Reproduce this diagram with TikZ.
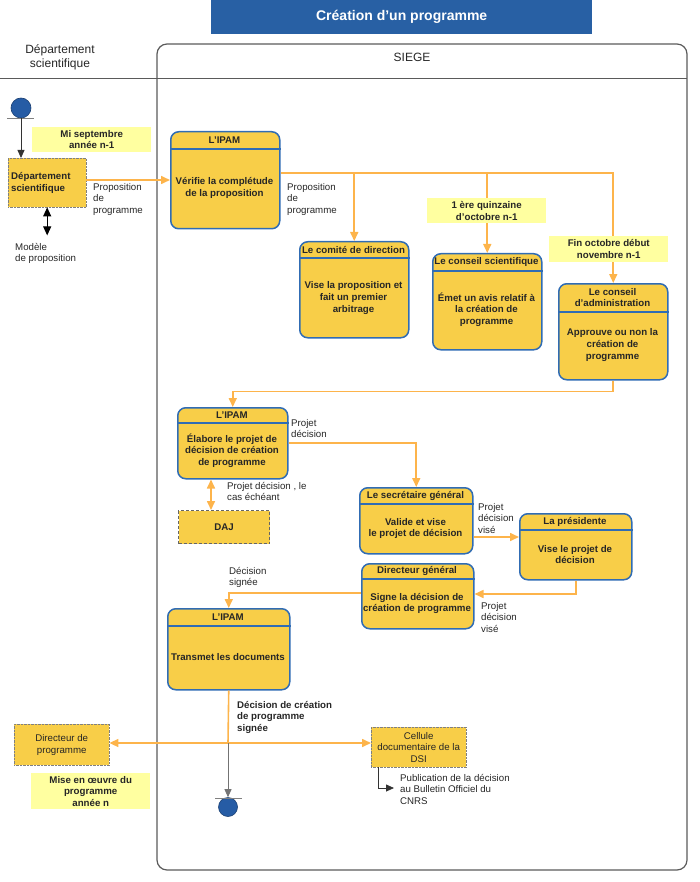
\documentclass[tikz,border=0pt]{standalone}
\usepackage{fontspec}
\setmainfont{Liberation Sans}
\usetikzlibrary{arrows.meta}
\definecolor{actfill}{RGB}{248,206,72}
\definecolor{actblue}{RGB}{48,108,180}
\definecolor{floworange}{RGB}{253,180,75}
\definecolor{notefill}{RGB}{255,255,160}
\definecolor{titleblue}{RGB}{40,96,164}
\definecolor{lanegray}{RGB}{90,90,90}
\definecolor{dotblue}{RGB}{38,92,165}

\begin{document}
\begin{tikzpicture}[x=1pt,y=-1pt,
            every node/.style={font=\fontsize{9.7}{11.6}\selectfont, inner sep=0pt, text=black!85},
            act/.style={draw=actblue, fill=actfill, line width=1.5pt, rounded corners=8pt,
                anchor=north west},
            bar/.style={draw=actblue, line width=1.5pt},
            acttitle/.style={font=\fontsize{9.7}{11.6}\selectfont\bfseries, align=center},
            actbody/.style={font=\fontsize{9.7}{11.6}\selectfont\bfseries, align=center},
            ext/.style={draw=gray, densely dotted, fill=actfill, anchor=north west, align=center},
            note/.style={fill=notefill, anchor=north west, align=center,
                font=\fontsize{9.7}{11.6}\selectfont\bfseries},
            lbl/.style={anchor=north west, align=left},
            flow/.style={draw=floworange, line width=1.6pt, -{Triangle[length=9pt,width=8pt]}},
            flowboth/.style={draw=floworange, line width=1.6pt,
                {Triangle[length=9pt,width=8pt]}-{Triangle[length=9pt,width=8pt]}},
            blackflow/.style={draw=black!80, line width=0.8pt, -{Triangle[length=8pt,width=7pt]}},
            blackboth/.style={draw=black, line width=1pt,
                {Triangle[length=9pt,width=8pt]}-{Triangle[length=9pt,width=8pt]}},
            dot/.style={circle, fill=dotblue, draw=dotblue!70!black, line width=0.6pt}]
            \useasboundingbox (0,0) rectangle (700,882);

            % titre et couloirs
            \node[fill=titleblue, minimum width=381, minimum height=34, anchor=north west,
                text=white, font=\fontsize{14}{16}\selectfont\bfseries] (title) at (211,0)
                {Création d’un programme};
            \draw[lanegray, line width=1.2pt, rounded corners=10pt] (157,44) rectangle (687,870);
            \draw[lanegray, line width=0.9pt] (0,78) -- (687,78);
            \node[font=\fontsize{12}{14}\selectfont, align=center] (lanedept) at (60,57)
                {Département\\scientifique};
            \node[font=\fontsize{12}{14}\selectfont] (lanesiege) at (412,57) {SIEGE};

            % noeuds
            \node[dot, minimum size=20pt] (start) at (21,108) {};
            \draw[gray, line width=0.8pt] (7,118) -- (34,118);
            \node[ext, minimum width=78, minimum height=49, text width=72pt, align=left,
                font=\fontsize{9.7}{11.6}\selectfont\bfseries] (dept) at (8,158)
                {Département\\scientifique};

            \node[act, minimum width=109, minimum height=97] (ipamA) at (170,131) {};
            \node[act, minimum width=109, minimum height=96] (comite) at (299,241) {};
            \node[act, minimum width=109, minimum height=96] (consci) at (432,253) {};
            \node[act, minimum width=109, minimum height=96] (conadm) at (558,283) {};
            \node[act, minimum width=110, minimum height=71] (ipamB) at (177,407) {};
            \node[ext, draw=black!60, densely dashed, line width=1pt, minimum width=91,
                minimum height=33, font=\fontsize{9.7}{11.6}\selectfont\bfseries] (daj) at (178,510) {DAJ};
            \node[act, minimum width=113, minimum height=66] (secgen) at (359,487) {};
            \node[act, minimum width=112, minimum height=66] (presid) at (519,513) {};
            \node[act, minimum width=112, minimum height=65] (dirgen) at (361,563) {};
            \node[act, minimum width=122, minimum height=81] (ipamC) at (167,608) {};

            \node[ext, minimum width=95, minimum height=41] (dirprog) at (14,724)
                {Directeur de\\programme};
            \node[ext, minimum width=95, minimum height=40] (cellule) at (371,727)
                {Cellule\\documentaire de la\\DSI};
            \node[dot, minimum size=19pt] (finish) at (228,807) {};

            % barres de titre
            \draw[bar] (ipamA.west |- 0,149) -- (ipamA.east |- 0,149);
            \draw[bar] (comite.west |- 0,258) -- (comite.east |- 0,258);
            \draw[bar] (consci.west |- 0,271) -- (consci.east |- 0,271);
            \draw[bar] (conadm.west |- 0,312) -- (conadm.east |- 0,312);
            \draw[bar] (ipamB.west |- 0,423) -- (ipamB.east |- 0,423);
            \draw[bar] (secgen.west |- 0,504) -- (secgen.east |- 0,504);
            \draw[bar] (presid.west |- 0,530) -- (presid.east |- 0,530);
            \draw[bar] (dirgen.west |- 0,579) -- (dirgen.east |- 0,579);
            \draw[bar] (ipamC.west |- 0,626) -- (ipamC.east |- 0,626);

            \node[acttitle] (ipamAt) at (224.5,140) {L'IPAM};
            \node[actbody] (ipamAb) at (224.5,188) {Vérifie la complétude\\de la proposition};
            \node[acttitle] (comitet) at (353.5,249.5) {Le comité de direction};
            \node[actbody] (comiteb) at (353.5,298) {Vise la proposition et\\fait un premier\\arbitrage};
            \node[acttitle] (conscit) at (486.5,262) {Le conseil scientifique};
            \node[actbody] (conscib) at (486.5,309.5) {Émet un avis relatif à\\la création de\\programme};
            \node[acttitle] (conadmt) at (612.5,297.5) {Le conseil\\d'administration};
            \node[actbody] (conadmb) at (612.5,345) {Approuve ou non la\\création de\\programme};
            \node[acttitle] (ipamBt) at (232,415) {L'IPAM};
            \node[actbody] (ipamBb) at (232,450.5) {Élabore le projet de\\décision de création\\de programme};
            \node[acttitle] (secgent) at (415.5,495.5) {Le secrétaire général};
            \node[actbody] (secgenb) at (415.5,528.5) {Valide et vise\\le projet de décision};
            \node[acttitle] (presidt) at (575,521.5) {La présidente};
            \node[actbody] (presidb) at (575,554.5) {Vise le projet de\\décision};
            \node[acttitle] (dirgent) at (417,571) {Directeur général};
            \node[actbody] (dirgenb) at (417,603.5) {Signe la décision de\\création de programme};
            \node[acttitle] (ipamCt) at (228,617) {L'IPAM};
            \node[actbody] (ipamCb) at (228,657) {Transmet les documents};

            % flux
            \draw[blackflow] (start.south) -- (start.south |- dept.north);
            \draw[blackboth] (dept.south) -- ++(0,28) coordinate (modelend);
            \draw[flow] (dept.east |- 0,180) -- (ipamA.west |- 0,180);
            \draw[flow] (ipamA.east |- 0,173) -| (comite.north);
            \draw[flow] (comite.north |- 0,173) -| (consci.north);
            \draw[flow] (consci.north |- 0,173) -| (conadm.north);
            \draw[flow] (conadm.south) -- ++(0,11) -| (ipamB.north);
            \draw[flow] (ipamB.east) -| (secgen.north);
            \draw[flowboth] (ipamB.south -| 211,0) -- (daj.north -| 211,0);
            \draw[flow] (secgen.east |- 0,537) -- (presid.west |- 0,537);
            \draw[flow] (presid.south) |- (dirgen.east |- 0,594);
            \draw[flow] (dirgen.west |- 0,593) -| (ipamC.north);
            \coordinate (junction) at (228,743);
            \draw[draw=floworange, line width=1.6pt] (ipamC.south) -- (junction);
            \draw[flowboth] (dirprog.east |- junction) -- (cellule.west |- junction);
            \draw[blackflow, draw=black!55] (junction) -- (finish.north);
            \draw[gray, line width=0.8pt] (215,798) -- (242,798);
            \coordinate (pubend) at (394,788);
            \draw[blackflow] ([xshift=7pt]cellule.south west) |- (pubend);

            % notes
            \node[note, minimum width=119, minimum height=25] (misept) at (32,127) {Mi septembre\\année n-1};
            \node[note, minimum width=119, minimum height=25] (quinz) at (427,198) {1 ère quinzaine\\d'octobre n-1};
            \node[note, minimum width=119, minimum height=26] (finoct) at (549,236) {Fin octobre début\\novembre n-1};
            \node[note, minimum width=119, minimum height=36] (miseoeuvre) at (31,773) {Mise en œuvre du\\programme\\année n};

            % libellés
            \node[lbl] (propA) at (93,183) {Proposition\\de\\programme};
            \node[lbl] (propB) at (287,183) {Proposition\\de\\programme};
            \node[lbl] (modele) at (15,243) {Modèle\\de proposition};
            \node[lbl] (projA) at (291,419) {Projet\\décision};
            \node[lbl] (projdaj) at (227,482) {Projet décision , le\\cas échéant};
            \node[lbl] (viseA) at (478,503) {Projet\\décision\\visé};
            \node[lbl] (viseB) at (481,602) {Projet\\décision\\visé};
            \node[lbl] (signee) at (229,567) {Décision\\signée};
            \node[lbl, font=\fontsize{9.7}{11.6}\selectfont\bfseries] (decsig) at (237,701)
                {Décision de création\\de programme\\signée};
            \node[lbl] (publi) at (400,774) {Publication de la décision\\au Bulletin Officiel du\\CNRS};
        \end{tikzpicture}
\end{document}
